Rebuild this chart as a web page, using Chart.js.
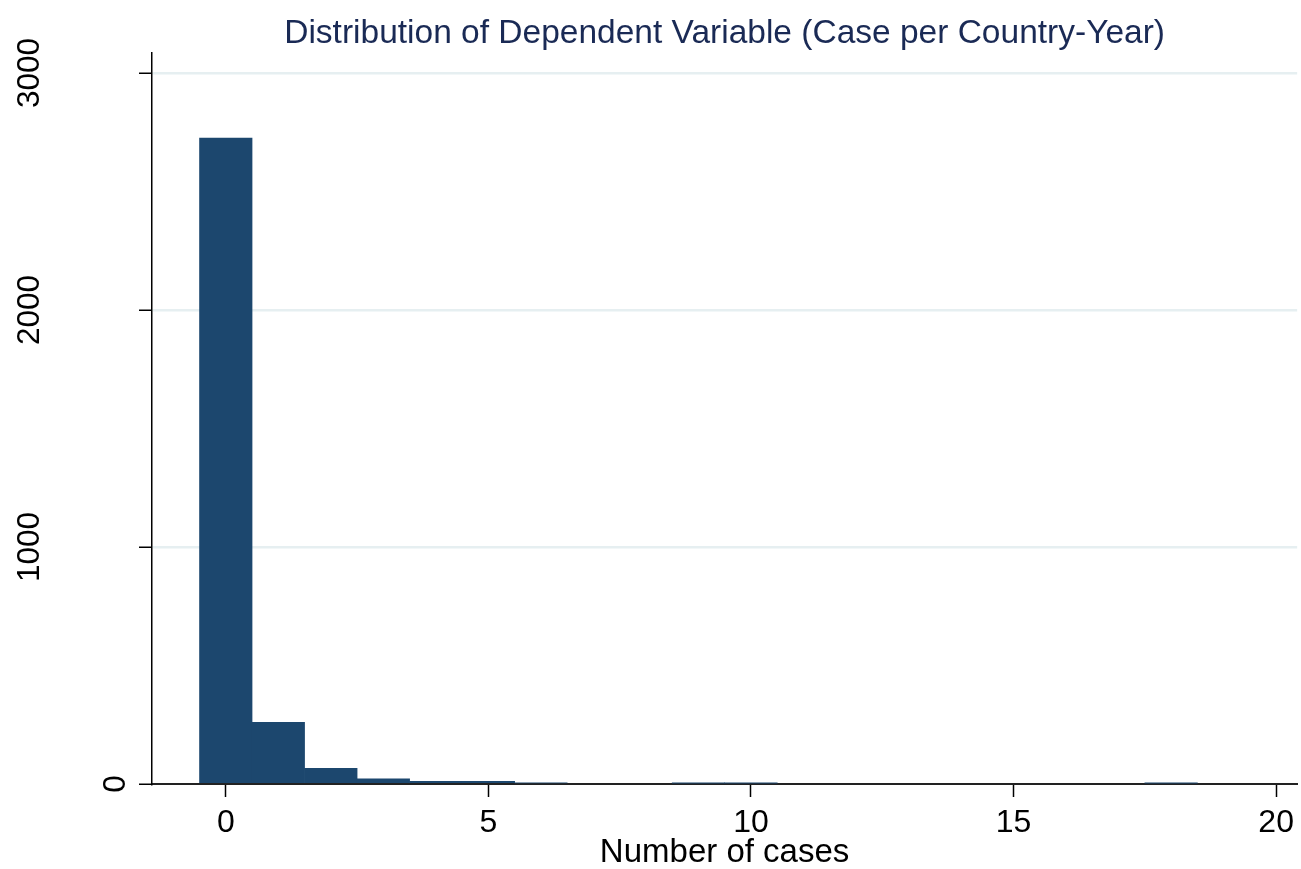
<!DOCTYPE html>
<html>
<head>
<meta charset="utf-8">
<title>Distribution of Dependent Variable</title>
<script src="https://cdn.jsdelivr.net/npm/chart.js@4.4.0/dist/chart.umd.min.js"></script>
<style>
    html, body { margin: 0; padding: 0; background: #fff; }
    #wrap { width: 1301px; height: 869px; }
</style>
</head>
<body>
<div id="wrap"><canvas id="hist_chart"></canvas></div>
<script>
// histogram data
const case_counts = [0, 1, 2, 3, 4, 5, 6, 9, 10, 18];
const frequencies = [2725, 260, 66, 22, 11, 11, 5, 4, 4, 4];

const x_ticks = [0, 5, 10, 15, 20];
const y_ticks = [0, 1000, 2000, 3000];

const chart_title = 'Distribution of Dependent Variable (Case per Country-Year)';
const x_title = 'Number of cases';

const font_family = '"Liberation Sans", Arial, Helvetica, sans-serif';
const ctx = document.getElementById('hist_chart').getContext('2d');

// title centred over the plot area + rotated y labels (stata style)
const stataText = {
    id: 'stataText',
    afterDraw(chart) {
        const c = chart.ctx;
        const area = chart.chartArea;
        const y = chart.scales.y;

        c.save();
        c.fillStyle = '#1a2a55';
        c.font = '33.5px ' + font_family;
        c.textAlign = 'center';
        c.textBaseline = 'alphabetic';
        c.fillText(chart_title, (area.left + area.right) / 2, 43);
        c.restore();

        c.save();
        c.fillStyle = '#000';
        c.font = '31.5px ' + font_family;
        c.textAlign = 'center';
        c.textBaseline = 'middle';
        y_ticks.forEach(v => {
            const py = y.getPixelForValue(v);
            const px = v === 0 ? 115 : 29;
            c.save();
            c.translate(px, py);
            c.rotate(-Math.PI / 2);
            c.fillText(String(v), 0, 1);
            c.restore();
        });
        c.restore();
    }
};

const hist_chart = new Chart(ctx, {
    type: 'bar',
    data: {
        datasets: [{
            label: 'Frequency',
            data: case_counts.map((c, i) => ({ x: c, y: frequencies[i] })),
            backgroundColor: '#1c476e',
            borderWidth: 0,
            barPercentage: 1,
            categoryPercentage: 1
        }]
    },
    options: {
        responsive: true,
        maintainAspectRatio: false,
        animation: false,
        layout: {
            padding: { top: 53, right: 2, left: 0, bottom: 0 }
        },
        plugins: {
            legend: { display: false },
            title: { display: false },
            tooltip: { enabled: false }
        },
        scales: {
            x: {
                type: 'linear',
                offset: false,
                min: -1.405,
                max: 20.4,
                afterBuildTicks: scale => {
                    scale.ticks = x_ticks.map(v => ({ value: v }));
                },
                afterFit: scale => { scale.height = 85; },
                grid: {
                    offset: false,
                    drawOnChartArea: false,
                    tickColor: '#000',
                    tickLength: 13,
                    tickWidth: 1.5
                },
                border: { color: '#222', width: 2 },
                ticks: {
                    color: '#000',
                    padding: 7,
                    maxRotation: 0,
                    font: { family: font_family, size: 32 }
                },
                title: {
                    display: true,
                    text: x_title,
                    color: '#000',
                    padding: { top: 0, bottom: -4 },
                    font: { family: font_family, size: 33 }
                }
            },
            y: {
                min: 0,
                max: 3084,
                afterBuildTicks: scale => {
                    scale.ticks = y_ticks.map(v => ({ value: v }));
                },
                afterFit: scale => { scale.width = 152; },
                grid: {
                    color: c => (c.tick && c.tick.value === 0) ? 'rgba(0,0,0,0)' : '#e6eff1',
                    lineWidth: 2.5,
                    tickColor: '#000',
                    tickLength: 13,
                    tickWidth: 1.5
                },
                border: { color: '#000', width: 1.5 },
                ticks: { display: false }
            }
        }
    },
    plugins: [stataText]
});
</script>
</body>
</html>
